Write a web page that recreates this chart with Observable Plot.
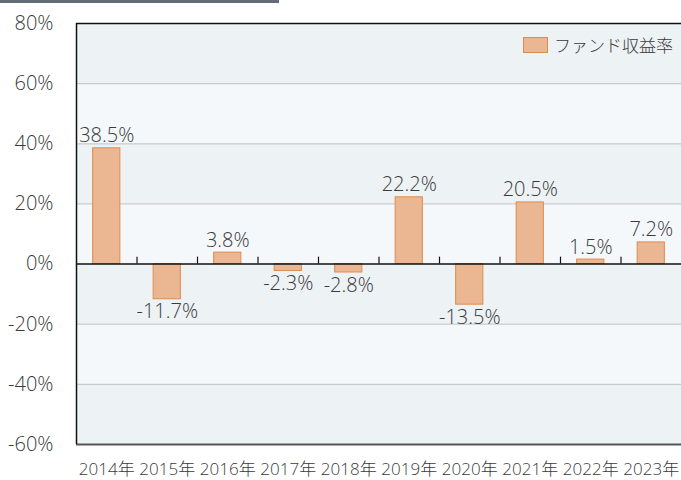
<!DOCTYPE html>
<html>
<head>
<meta charset="utf-8">
<script src="https://cdn.jsdelivr.net/npm/d3@7"></script>
<script src="https://cdn.jsdelivr.net/npm/@observablehq/plot@0.6"></script>
<style>
  html, body { margin: 0; padding: 0; background: #fff; }
  #wrap { position: relative; width: 681px; height: 480px; font-family: "Open Sans", "Noto Sans CJK JP", sans-serif; font-weight: 300; }
  #topbar { position: absolute; left: 0; top: 0; width: 279px; height: 3px; background: #636d7a; }
  #legend { position: absolute; top: 32px; left: 523px; display: flex; align-items: center; font-size: 17px; color: #3a3a3a; }
  #legend .sw { width: 23px; height: 14px; background: #ebb792; border: 1px solid #e08b4e; margin-right: 6px; }
</style>
</head>
<body>
<div id="wrap">
  <div id="chart"></div>
  <div id="topbar"></div>
  <div id="legend"><span class="sw"></span><span id="legendText"></span></div>
</div>
<script>
const years = ["2014年","2015年","2016年","2017年","2018年","2019年","2020年","2021年","2022年","2023年"];
const returns = [38.5, -11.7, 3.8, -2.3, -2.8, 22.2, -13.5, 20.5, 1.5, 7.2];
const yTicks = [80, 60, 40, 20, 0, -20, -40, -60];
const seriesName = "ファンド収益率";

document.getElementById("legendText").textContent = seriesName;

const data = years.map((y, i) => ({year: y, value: returns[i]}));
const bands = yTicks.slice(0, -1).map((t, i) => ({top: t, bottom: yTicks[i + 1], dark: i % 2 === 0}));

const W = 681, H = 480, mL = 76, mR = 0, mT = 23, mB = 36;
const step = (W - mL - mR) / years.length;
const FONT = '"Open Sans", "Noto Sans CJK JP", sans-serif';
const TEXT = "#3a3a3a";

const chart = Plot.plot({
  width: W,
  height: H,
  marginLeft: mL,
  marginRight: mR,
  marginTop: mT,
  marginBottom: mB,
  style: {fontFamily: FONT, fontWeight: 300, background: "transparent"},
  x: {domain: years, paddingInner: 0.55, paddingOuter: 0.275, round: false, label: null},
  y: {domain: [-60, 80], ticks: yTicks, label: null},
  marks: [
    Plot.rect(bands, {y1: "bottom", y2: "top", fill: d => d.dark ? "#edf2f5" : "#f5f8fa"}),
    Plot.ruleY(yTicks.filter(t => t !== 0 && t !== 80 && t !== -60), {stroke: "#c8cbce", strokeWidth: 1.2}),
    Plot.ruleY([80], {stroke: "#111", strokeWidth: 1.5}),
    Plot.ruleY([-60], {stroke: "#555", strokeWidth: 2}),
    Plot.barY(data, {x: "year", y: "value", fill: "#ebb792", stroke: "#e08b4e", strokeWidth: 1}),
    Plot.ruleY([0], {stroke: "#111", strokeWidth: 1.5}),
    Plot.ruleX(years.slice(1), {x: d => d, y1: 0, y2: 2.3, dx: -step / 2, stroke: "#111", strokeWidth: 1.2}),
    Plot.text(data.filter(d => d.value >= 0), {x: "year", y: "value", text: d => d.value.toFixed(1) + "%", lineAnchor: "bottom", dy: -6, fontSize: 20, fill: TEXT}),
    Plot.text(data.filter(d => d.value < 0), {x: "year", y: "value", text: d => d.value.toFixed(1) + "%", lineAnchor: "top", dy: 5, fontSize: 20, fill: TEXT}),
    Plot.axisY({ticks: yTicks, tickSize: 0, tickPadding: 23, tickFormat: d => d + "%", fontSize: 20, color: TEXT}),
    Plot.axisX({tickSize: 0, tickPadding: 18, fontSize: 17, color: TEXT})
  ]
});

const svg = d3.select(chart);
svg.append("line").attr("x1", mL + 0.5).attr("x2", mL + 0.5).attr("y1", mT).attr("y2", H - mB)
  .attr("stroke", "#111").attr("stroke-width", 1.5);

document.getElementById("chart").appendChild(chart);
</script>
</body>
</html>
